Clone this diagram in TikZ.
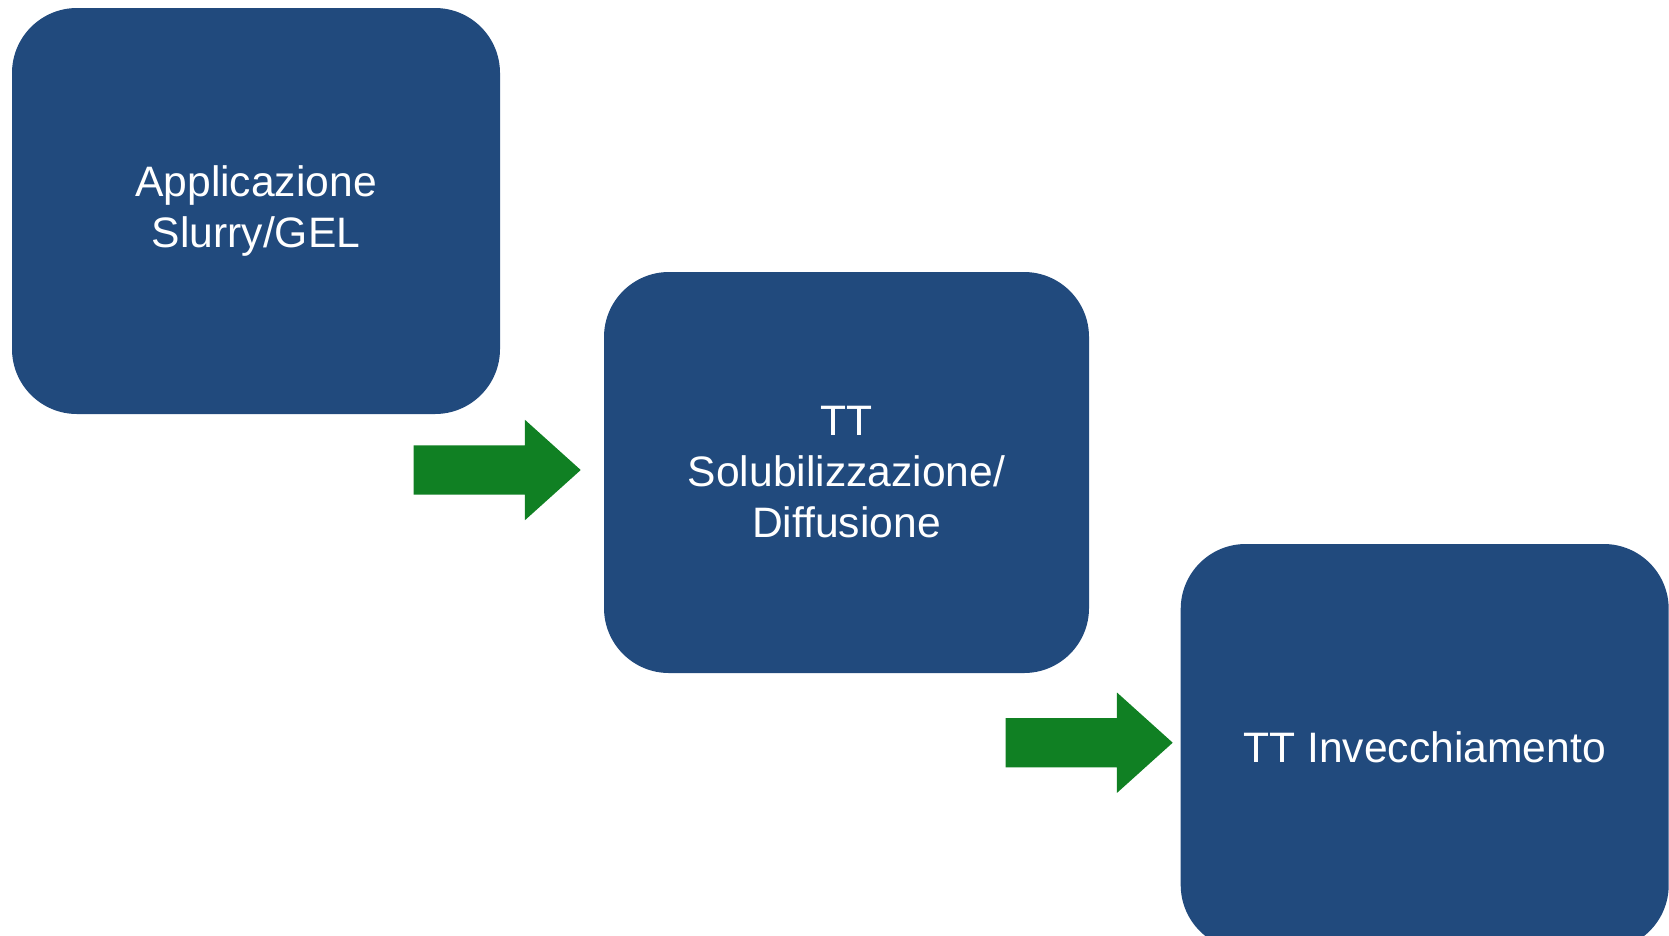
\documentclass[tikz,border=0pt]{standalone}
\usepackage{fontspec}
\setmainfont{Liberation Sans}
\usepackage{tikz}
\usetikzlibrary{shapes,positioning}
\definecolor{stepblue}{RGB}{33, 74, 125}
\definecolor{arrowgreen}{RGB}{16, 128, 35}

\begin{document}
\begin{tikzpicture}[x=1pt, y=-1pt,
    stepbox/.style={rectangle, rounded corners=65pt, fill=stepblue, text=white,
      align=center, inner sep=0pt, font=\fontsize{42.6}{51}\selectfont},
    flowarrow/.style={single arrow, fill=arrowgreen, inner sep=0pt, anchor=tip,
      text height=49pt, text depth=0pt,
      minimum width=100pt, minimum height=167pt,
      single arrow head extend=25.5pt, single arrow tip angle=84}]
    \useasboundingbox (0,0) rectangle (1669,935);

    % Boxes
    \node[stepbox, minimum width=488pt, minimum height=406pt] (applicazione) at (256,211)
      {Applicazione\\Slurry/GEL};
    \node[stepbox, minimum width=485pt, minimum height=401pt] (solubilizzazione) at (846.5,472.5)
      {TT\\Solubilizzazione/\\Diffusione};
    \node[stepbox, minimum width=488pt, minimum height=406pt] (invecchiamento) at (1424.7,747)
      {TT Invecchiamento};

    % Arrows
    \node[flowarrow] (arrowone) at (581,470) {};
    \node[flowarrow] (arrowtwo) at (1173,742.7) {};
\end{tikzpicture}
\end{document}
